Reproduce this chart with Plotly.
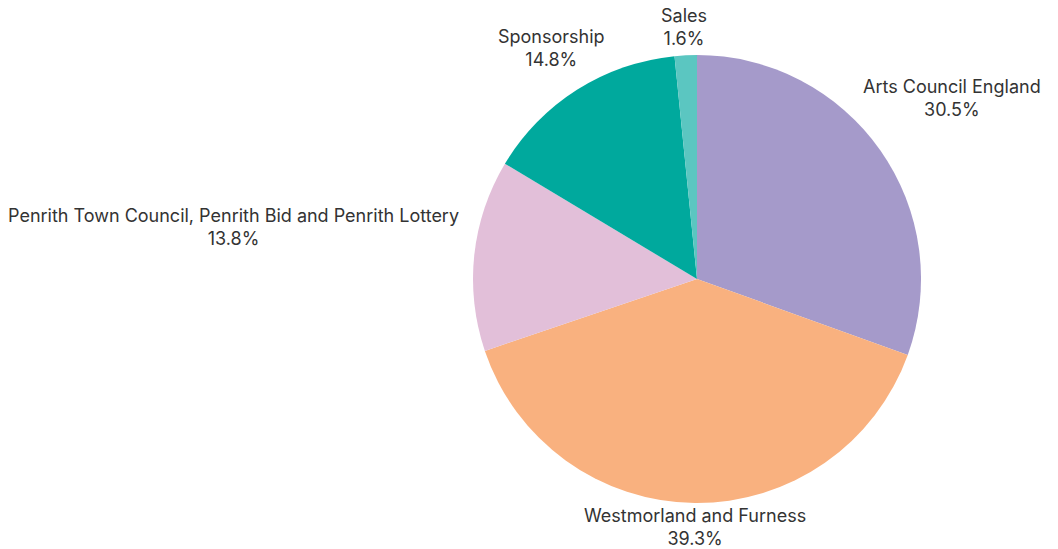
import math
import plotly.graph_objects as go

labels = ["Arts Council England", "Westmorland and Furness",
          "Penrith Town Council, Penrith Bid and Penrith Lottery",
          "Sponsorship", "Sales"]
values = [30.5, 39.3, 13.8, 14.8, 1.6]
colors = ["#A59ACA", "#F9B17F", "#E2BFD9", "#00A99D", "#5BC6C1"]

# page body has an 8px margin at top/left; fill the rest of the window
W, H = 1050, 541
cx, cy, r = 689, 271, 224
FONT = "Inter, Open Sans, sans-serif"
FS = 18
CW = 8.9      # estimated average character width (px)
HALF_H = 21   # half height of a two-line label (px)
GAP = 5
LIFT = 2      # small upward nudge of label text (px)

fig = go.Figure(go.Pie(
    labels=labels, values=values, sort=False, direction="clockwise",
    rotation=0,
    marker=dict(colors=colors, line=dict(width=0)),
    textinfo="none",
    hoverinfo="label+percent",
    domain=dict(x=[(cx - r) / W, (cx + r) / W],
                y=[(H - cy - r) / H, (H - cy + r) / H]),
    showlegend=False,
))

total = sum(values)
cum = 0.0
annotations = []
for lab, v in zip(labels, values):
    mid = (cum + v / 2) / total * 2 * math.pi
    cum += v
    ux, uy = math.sin(mid), -math.cos(mid)
    hw = len(lab) * CW / 2
    lo, hi = 0.0, 2000.0
    for _ in range(60):
        t = (lo + hi) / 2
        px = max(abs(t * ux) - hw, 0)
        py = max(abs(t * uy) - HALF_H, 0)
        if math.hypot(px, py) < r + GAP:
            lo = t
        else:
            hi = t
    lx, ly = cx + hi * ux, cy + hi * uy - LIFT
    annotations.append(dict(
        x=lx / W, y=1 - ly / H, xref="paper", yref="paper",
        xanchor="center", yanchor="middle", showarrow=False,
        text=f"{lab}<br>{v / total * 100:.1f}%",
        font=dict(family=FONT, size=FS, color="#333333"),
    ))

fig.update_layout(width=W, height=H, margin=dict(l=0, r=0, t=0, b=0),
                  paper_bgcolor="white", plot_bgcolor="white",
                  annotations=annotations)
fig.write_html("out.html")
